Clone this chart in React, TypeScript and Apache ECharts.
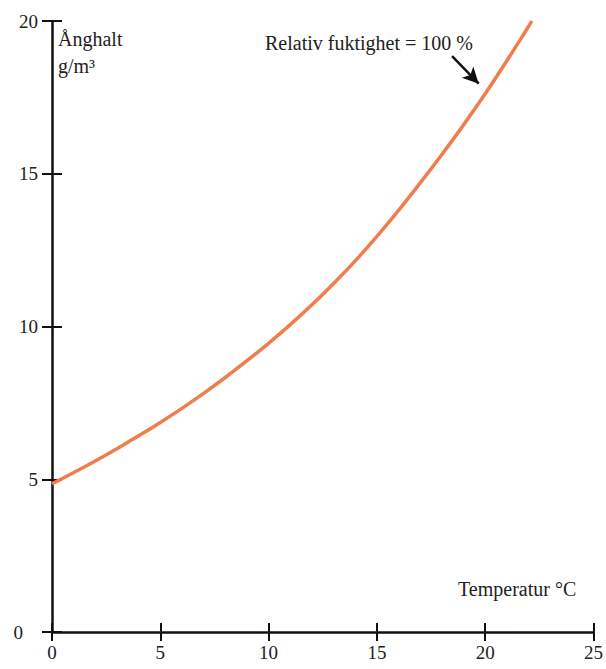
import React, { useEffect, useRef } from "react";
import * as echarts from "echarts";

const temperatures = [0, 1, 2, 3, 4, 5, 6, 7, 8, 9, 10, 11, 12, 13, 14, 15, 16, 17, 18, 19, 20, 21, 22, 22.15];
const vaporContent = [4.85, 5.22, 5.6, 6.0, 6.42, 6.86, 7.32, 7.81, 8.33, 8.88, 9.45, 10.06, 10.71, 11.41, 12.15, 12.95, 13.8, 14.7, 15.63, 16.6, 17.62, 18.7, 19.82, 20.0];
const xTicks = [0, 5, 10, 15, 20, 25];
const yTicks = [0, 5, 10, 15, 20];
const arrowFrom = [18.47, 18.85];
const arrowTo = [19.7, 17.95];

const FONT = "'Liberation Serif', 'DejaVu Serif', serif";
const INK = "#222";

export default function App() {
  const ref = useRef<HTMLDivElement>(null);
  useEffect(() => {
    if (!ref.current) return;
    const chart = echarts.init(ref.current, undefined, { renderer: "svg" });
    const axisLineStyle = { color: "#111", width: 2.5 };
    const tickStyle = { color: "#111", width: 2 };
    chart.setOption({
      animation: false,
      grid: { left: 52, right: 10, top: 21, bottom: 37, containLabel: false },
      xAxis: [
        {
          type: "value",
          min: 0,
          max: 25,
          interval: 5,
          splitLine: { show: false },
          axisLine: { show: true, lineStyle: axisLineStyle },
          axisTick: { show: true, inside: false, length: 9, lineStyle: tickStyle },
          axisLabel: {
            margin: 11,
            fontFamily: FONT,
            fontSize: 19,
            color: INK,
            customValues: xTicks,
          },
        },
        {
          type: "value",
          min: 0,
          max: 25,
          interval: 5,
          position: "bottom",
          splitLine: { show: false },
          axisLine: { show: false },
          axisTick: { show: true, inside: true, length: 9, lineStyle: tickStyle },
          axisLabel: { show: false },
        },
      ],
      yAxis: [
        {
          type: "value",
          min: 0,
          max: 20,
          interval: 5,
          splitLine: { show: false },
          axisLine: { show: true, lineStyle: axisLineStyle },
          axisTick: { show: true, inside: false, length: 10, lineStyle: tickStyle },
          axisLabel: {
            margin: 14,
            fontFamily: FONT,
            fontSize: 19,
            color: INK,
            customValues: yTicks,
            formatter: (v: number) => (v === 0 ? "{z|0}" : String(v)),
            rich: { z: { fontFamily: FONT, fontSize: 19, color: INK, padding: [0, 15, 0, 0] } },
          },
        },
        {
          type: "value",
          min: 0,
          max: 20,
          interval: 5,
          position: "left",
          splitLine: { show: false },
          axisLine: { show: false },
          axisTick: { show: true, inside: true, length: 10, lineStyle: tickStyle },
          axisLabel: { show: false },
        },
      ],
      series: [
        {
          type: "line",
          data: temperatures.map((t, i) => [t, vaporContent[i]]),
          smooth: 0.3,
          showSymbol: false,
          lineStyle: { color: "#f07e4c", width: 3.5 },
          markLine: {
            silent: true,
            symbol: ["none", "arrow"],
            symbolSize: [12, 16],
            label: { show: false },
            lineStyle: { color: "#111", width: 2.5, type: "solid" },
            data: [[{ coord: arrowFrom }, { coord: arrowTo }]],
          },
        },
      ],
      graphic: [
        {
          type: "text",
          left: 58,
          top: 29,
          style: { text: "Ånghalt", font: `20px ${FONT}`, fill: INK },
        },
        {
          type: "text",
          left: 58,
          top: 56,
          style: { text: "g/m³", font: `20px ${FONT}`, fill: INK },
        },
        {
          type: "text",
          left: 265,
          top: 33,
          style: { text: "Relativ fuktighet = 100 %", font: `20px ${FONT}`, fill: INK },
        },
        {
          type: "text",
          left: 458,
          top: 579,
          style: { text: "Temperatur °C", font: `20px ${FONT}`, fill: INK },
        },
      ],
    });
    return () => chart.dispose();
  }, []);
  return <div ref={ref} style={{ width: 606, height: 669, position: "absolute", left: 0, top: 0, background: "#fff" }} />;
}
